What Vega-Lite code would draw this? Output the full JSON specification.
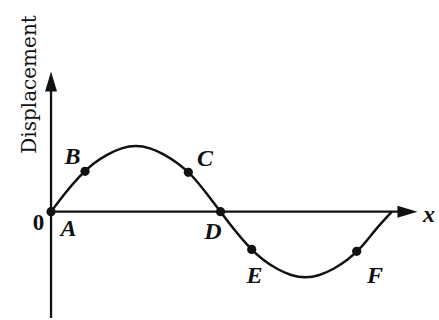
{
  "$schema": "https://vega.github.io/schema/vega-lite/v6.json",
  "width": 439,
  "height": 320,
  "autosize": {"type": "fit", "contains": "padding"},
  "padding": 0,
  "background": "white",
  "config": {"view": {"stroke": null}},
  "datasets": {
    "wave": [
      {"phase": 0, "disp": 0}, {"phase": 15, "disp": 0.28}, {"phase": 30, "disp": 0.53},
      {"phase": 45, "disp": 0.73}, {"phase": 60, "disp": 0.87}, {"phase": 75, "disp": 0.965},
      {"phase": 90, "disp": 1.0}, {"phase": 105, "disp": 0.965}, {"phase": 120, "disp": 0.87},
      {"phase": 135, "disp": 0.73}, {"phase": 150, "disp": 0.54}, {"phase": 165, "disp": 0.28},
      {"phase": 180, "disp": 0}, {"phase": 195, "disp": -0.28}, {"phase": 210, "disp": -0.53},
      {"phase": 225, "disp": -0.73}, {"phase": 240, "disp": -0.87}, {"phase": 255, "disp": -0.965},
      {"phase": 270, "disp": -1.0}, {"phase": 285, "disp": -0.965}, {"phase": 300, "disp": -0.87},
      {"phase": 315, "disp": -0.73}, {"phase": 330, "disp": -0.53}, {"phase": 345, "disp": -0.27},
      {"phase": 362, "disp": 0}
    ],
    "points": [
      {"name": "A", "phase": 0, "disp": 0},
      {"name": "B", "phase": 36.1, "disp": 0.615},
      {"name": "C", "phase": 145.8, "disp": 0.6},
      {"name": "D", "phase": 180, "disp": 0},
      {"name": "E", "phase": 213.1, "disp": -0.575},
      {"name": "F", "phase": 324.6, "disp": -0.605}
    ],
    "labels": [
      {"text": "A", "phase": 18.5, "disp": -0.364},
      {"text": "B", "phase": 22.8, "disp": 0.727},
      {"text": "C", "phase": 163.5, "disp": 0.697},
      {"text": "D", "phase": 172.0, "disp": -0.409},
      {"text": "E", "phase": 216.1, "disp": -1.091},
      {"text": "F", "phase": 344.0, "disp": -1.091},
      {"text": "x", "phase": 401.4, "disp": -0.152}
    ],
    "axes": [
      {"phase": 0, "disp": -1.62, "phase2": 0, "disp2": 1.9},
      {"phase": 0, "disp": 0, "phase2": 372, "disp2": 0}
    ],
    "heads": [
      {"dir": "up", "phase": 0, "disp": 1.985},
      {"dir": "right", "phase": 378.5, "disp": 0}
    ],
    "origin": [{"text": "0", "phase": -13.3, "disp": -0.273}],
    "title": [{"text": "Displacement", "phase": -16.0, "disp": 1.939}]
  },
  "layer": [
    {
      "data": {"name": "axes"},
      "mark": {"type": "rule", "color": "#111111", "strokeWidth": 2.3},
      "encoding": {
        "x": {"field": "phase", "type": "quantitative", "scale": {"domain": [-54.2, 412.0], "nice": false, "zero": false}, "axis": null},
        "y": {"field": "disp", "type": "quantitative", "scale": {"domain": [-1.621, 3.227], "nice": false, "zero": false}, "axis": null},
        "x2": {"field": "phase2"},
        "y2": {"field": "disp2"}
      }
    },
    {
      "data": {"name": "heads"},
      "mark": {"type": "point", "filled": true, "opacity": 1, "size": 400, "color": "#111111"},
      "encoding": {
        "x": {"field": "phase", "type": "quantitative", "scale": {"domain": [-54.2, 412.0], "nice": false, "zero": false}, "axis": null},
        "y": {"field": "disp", "type": "quantitative", "scale": {"domain": [-1.621, 3.227], "nice": false, "zero": false}, "axis": null},
        "shape": {"field": "dir", "type": "nominal", "scale": {"domain": ["up", "right"], "range": ["M0,-1L0.6,1L-0.6,1Z", "M1,0L-1,-0.6L-1,0.6Z"]}, "legend": null}
      }
    },
    {
      "data": {"name": "wave"},
      "mark": {"type": "line", "color": "#111111", "strokeWidth": 2.5, "interpolate": "natural"},
      "encoding": {
        "x": {"field": "phase", "type": "quantitative", "scale": {"domain": [-54.2, 412.0], "nice": false, "zero": false}, "axis": null},
        "y": {"field": "disp", "type": "quantitative", "scale": {"domain": [-1.621, 3.227], "nice": false, "zero": false}, "axis": null}
      }
    },
    {
      "data": {"name": "points"},
      "mark": {"type": "circle", "color": "#111111", "opacity": 1, "size": 85},
      "encoding": {
        "x": {"field": "phase", "type": "quantitative", "scale": {"domain": [-54.2, 412.0], "nice": false, "zero": false}, "axis": null},
        "y": {"field": "disp", "type": "quantitative", "scale": {"domain": [-1.621, 3.227], "nice": false, "zero": false}, "axis": null}
      }
    },
    {
      "data": {"name": "labels"},
      "mark": {"type": "text", "font": "Liberation Serif", "fontStyle": "italic", "fontWeight": "bold", "fontSize": 24, "color": "#111111", "align": "center", "baseline": "alphabetic"},
      "encoding": {
        "x": {"field": "phase", "type": "quantitative", "scale": {"domain": [-54.2, 412.0], "nice": false, "zero": false}, "axis": null},
        "y": {"field": "disp", "type": "quantitative", "scale": {"domain": [-1.621, 3.227], "nice": false, "zero": false}, "axis": null},
        "text": {"field": "text", "type": "nominal"}
      }
    },
    {
      "data": {"name": "origin"},
      "mark": {"type": "text", "font": "Liberation Serif", "fontWeight": "bold", "fontSize": 23, "color": "#111111", "align": "center", "baseline": "alphabetic"},
      "encoding": {
        "x": {"field": "phase", "type": "quantitative", "scale": {"domain": [-54.2, 412.0], "nice": false, "zero": false}, "axis": null},
        "y": {"field": "disp", "type": "quantitative", "scale": {"domain": [-1.621, 3.227], "nice": false, "zero": false}, "axis": null},
        "text": {"field": "text", "type": "nominal"}
      }
    },
    {
      "data": {"name": "title"},
      "mark": {"type": "text", "font": "DejaVu Serif", "fontSize": 20, "angle": 270, "color": "#111111", "align": "center", "baseline": "alphabetic"},
      "encoding": {
        "x": {"field": "phase", "type": "quantitative", "scale": {"domain": [-54.2, 412.0], "nice": false, "zero": false}, "axis": null},
        "y": {"field": "disp", "type": "quantitative", "scale": {"domain": [-1.621, 3.227], "nice": false, "zero": false}, "axis": null},
        "text": {"field": "text", "type": "nominal"}
      }
    }
  ]
}
